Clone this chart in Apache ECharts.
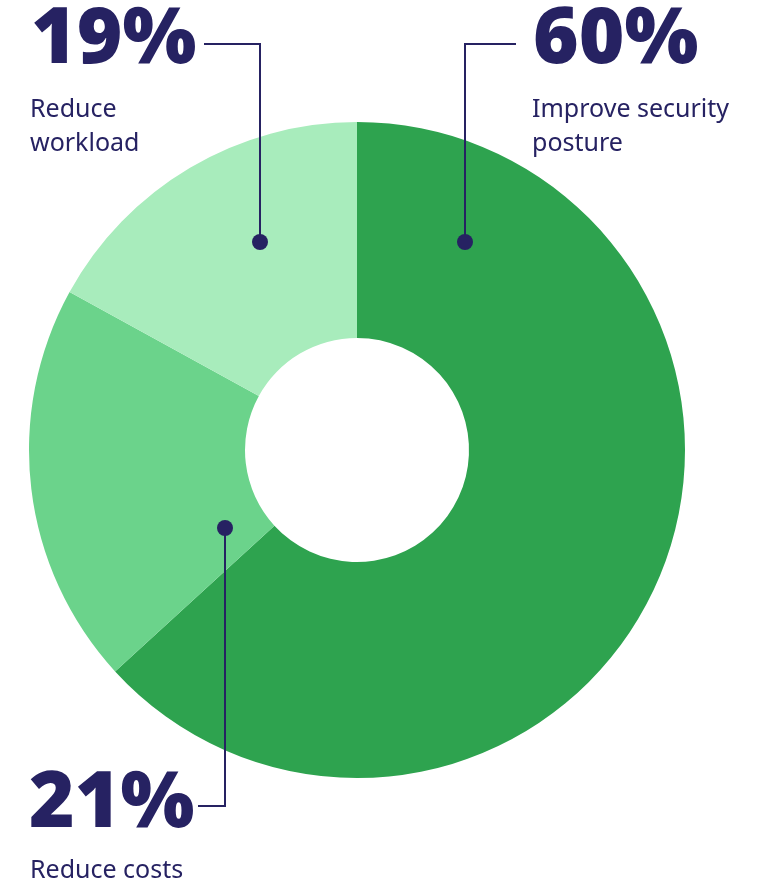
<!DOCTYPE html>
<html><head><meta charset="utf-8">
<script src="https://cdn.jsdelivr.net/npm/echarts@6/dist/echarts.min.js"></script>
<style>html,body{margin:0;padding:0;background:#fff}#c{width:767px;height:885px}</style>
</head><body><div id="c"></div>
<script>
// Slice shares as drawn in the picture (clockwise from top)
const categories = ['Improve security posture', 'Reduce costs', 'Reduce workload'];
const sliceValues = [63.2, 19.8, 17.0];
const percentLabels = ['60%', '21%', '19%'];
const colors = ['#2ea34f', '#6bd38b', '#a8ecbc'];

const navy = '#262262';
const chart = echarts.init(document.getElementById('c'), null, {renderer: 'canvas'});

const bigFont = '900 78px "Noto Sans"';
const smallFont = '400 25px "Noto Sans"';

function txt(text, x, y, font) {
  return {type: 'text', z: 10, style: {text, x, y, font, fill: navy, align: 'left', verticalAlign: 'middle'}};
}
function poly(points) {
  return {type: 'polyline', z: 10, shape: {points}, style: {stroke: navy, lineWidth: 2, fill: null}};
}
function dot(x, y) {
  return {type: 'circle', z: 11, shape: {cx: x, cy: y, r: 8}, style: {fill: navy}};
}

chart.setOption({
  animation: false,
  series: [{
    type: 'pie',
    center: [357, 450],
    radius: [112, 328],
    startAngle: 90,
    clockwise: true,
    label: {show: false},
    labelLine: {show: false},
    emphasis: {disabled: true},
    itemStyle: {borderWidth: 0},
    data: categories.map((n, i) => ({name: n, value: sliceValues[i], itemStyle: {color: colors[i]}}))
  }],
  graphic: [
    // 60%
    poly([[465, 242], [465, 44], [516, 44]]),
    dot(465, 242),
    txt(percentLabels[0], 533, 41, bigFont),
    txt('Improve security', 532, 110, smallFont),
    txt('posture', 532, 144, smallFont),
    // 19%
    poly([[260, 242], [260, 44], [204, 44]]),
    dot(260, 242),
    txt(percentLabels[2], 31, 41, bigFont),
    txt('Reduce', 30, 110, smallFont),
    txt('workload', 30, 144, smallFont),
    // 21%
    poly([[225, 528], [225, 806], [198, 806]]),
    dot(225, 528),
    txt(percentLabels[1], 29, 805, bigFont),
    txt('Reduce costs', 30, 871, smallFont)
  ]
});
</script></body></html>
